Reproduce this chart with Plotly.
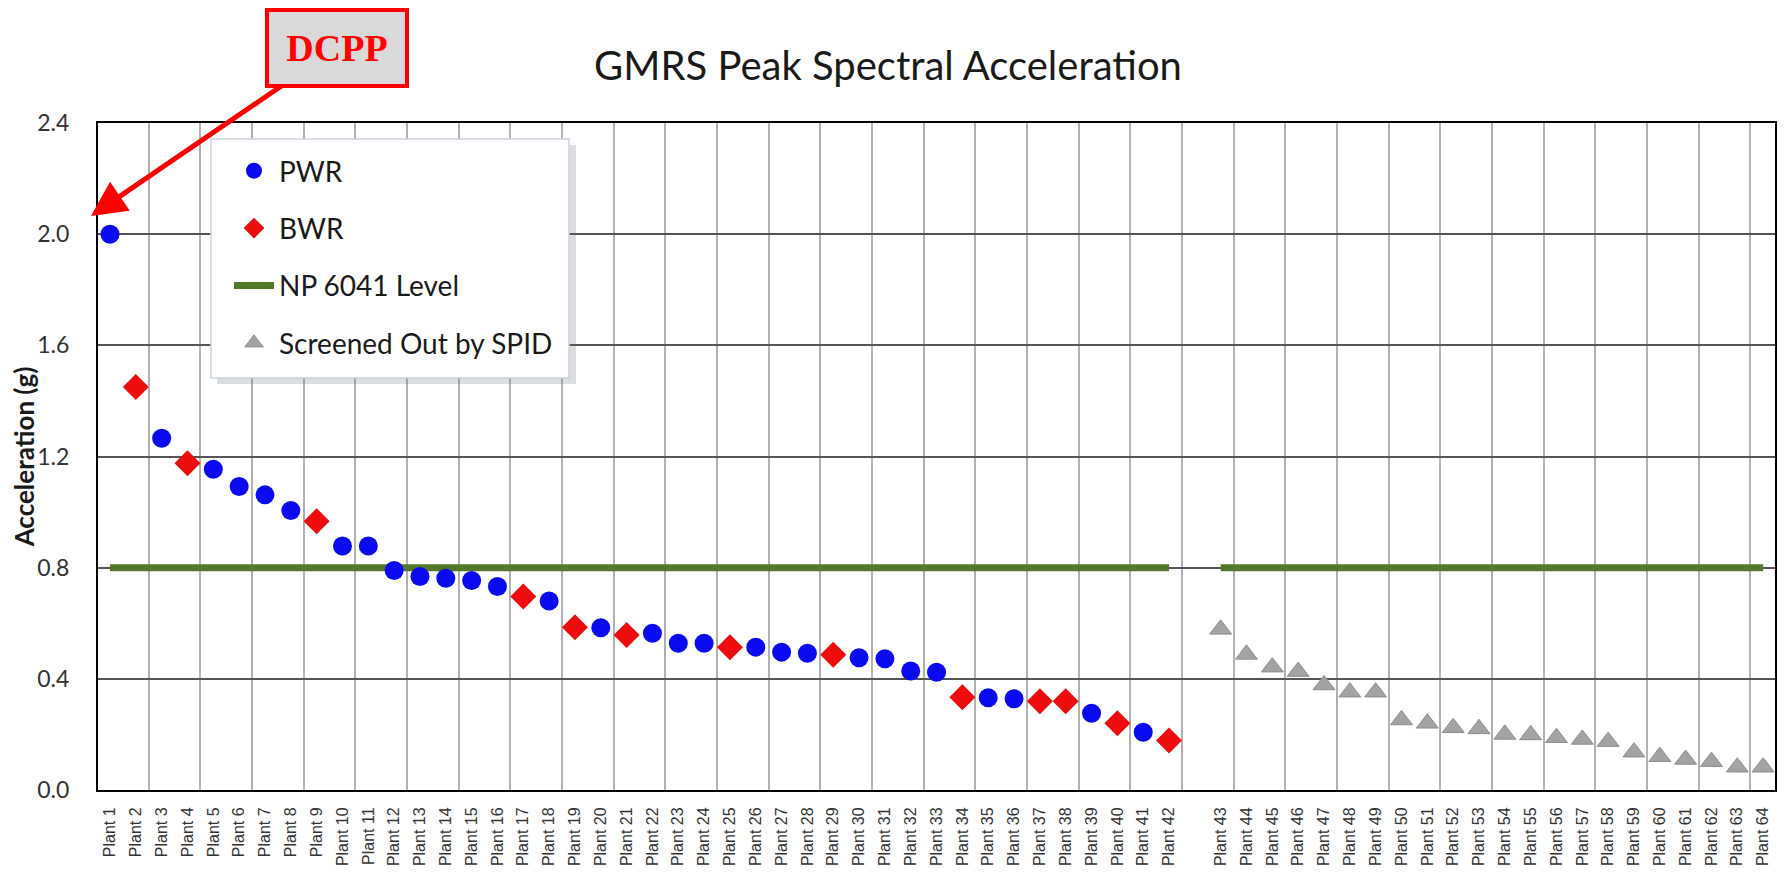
import plotly.graph_objects as go

plants = [f"Plant {i}" for i in range(1, 65)]
accel = [2.00, 1.45, 1.266, 1.176, 1.154, 1.092, 1.062, 1.006, 0.967, 0.878,
         0.878, 0.790, 0.768, 0.762, 0.754, 0.732, 0.696, 0.680, 0.586, 0.584,
         0.558, 0.564, 0.528, 0.528, 0.514, 0.514, 0.496, 0.492, 0.487, 0.476,
         0.472, 0.428, 0.424, 0.334, 0.332, 0.328, 0.319, 0.319, 0.276, 0.240,
         0.208, 0.178,
         0.578, 0.488, 0.442, 0.426, 0.378, 0.352, 0.352, 0.252, 0.240, 0.224,
         0.220, 0.200, 0.198, 0.188, 0.182, 0.174, 0.136, 0.120, 0.110, 0.102,
         0.082, 0.082]
types = ["PWR", "BWR", "PWR", "BWR", "PWR", "PWR", "PWR", "PWR", "BWR", "PWR",
         "PWR", "PWR", "PWR", "PWR", "PWR", "PWR", "BWR", "PWR", "BWR", "PWR",
         "BWR", "PWR", "PWR", "PWR", "BWR", "PWR", "PWR", "PWR", "BWR", "PWR",
         "PWR", "PWR", "PWR", "BWR", "PWR", "PWR", "BWR", "BWR", "PWR", "BWR",
         "PWR", "BWR"] + ["SPID"] * 22
np6041_level = 0.8
y_ticks = [0.0, 0.4, 0.8, 1.2, 1.6, 2.0, 2.4]

# category positions: one empty slot between Plant 42 and Plant 43
pos = [i if i < 42 else i + 1 for i in range(len(plants))]

OFF = 8  # page body margin
W, H = 1789 - OFF, 876 - OFF
L, R, T, B = 90, 14, 115, 86
pw, ph = W - L - R, H - T - B
def px(x):  # screenshot pixel -> paper
    return (x - OFF - L) / pw
def py(y):
    return (H - B - (y - OFF)) / ph

fig = go.Figure()

# NP 6041 level line (two segments)
grp1 = [p for p, t in zip(pos, types) if t != "SPID"]
grp2 = [p for p, t in zip(pos, types) if t == "SPID"]
fig.add_trace(go.Scatter(
    x=[grp1[0], grp1[-1], None, grp2[0], grp2[-1]],
    y=[np6041_level, np6041_level, None, np6041_level, np6041_level],
    mode="lines", name="NP 6041 Level", legendgroup="c", legendrank=3,
    line=dict(color="#52782a", width=7)))

def sel(t):
    xs = [p for p, tt in zip(pos, types) if tt == t]
    ys = [v for v, tt in zip(accel, types) if tt == t]
    return xs, ys

x, y = sel("PWR")
fig.add_trace(go.Scatter(x=x, y=y, mode="markers", name="PWR", legendgroup="a",
                         legendrank=1,
                         marker=dict(symbol="circle", size=19, color="#0a0af0",
                                     line=dict(width=0))))
x, y = sel("BWR")
fig.add_trace(go.Scatter(x=x, y=y, mode="markers", name="BWR", legendgroup="b",
                         legendrank=2,
                         marker=dict(symbol="diamond", size=20, color="#ee0c0c",
                                     line=dict(width=0))))
x, y = sel("SPID")
fig.add_trace(go.Scatter(x=x, y=y, mode="markers", name="Screened Out by SPID",
                         legendgroup="d", legendrank=4,
                         marker=dict(symbol="triangle-up", size=19, color="#a3a3a3",
                                     line=dict(width=1, color="#8c8c8c"))))

grid_x = [i + 1.5 for i in range(0, 63, 2)]

fig.update_layout(
    width=W, height=H,
    margin=dict(l=L, r=R, t=T, b=B, autoexpand=False),
    paper_bgcolor="white", plot_bgcolor="white",
    title=dict(text="GMRS Peak Spectral Acceleration", x=(888 - OFF) / W,
               xanchor="center", y=1 - (66 - OFF) / H, yanchor="middle",
               font=dict(family="Lato", size=40, color="#1a1a1a")),
    showlegend=True,
    legend=dict(x=px(229), y=py(146), xanchor="left", yanchor="top",
                bgcolor="rgba(0,0,0,0)", borderwidth=0,
                font=dict(family="Lato", size=28, color="#1a1a1a"),
                tracegroupgap=18, itemwidth=40, traceorder="grouped"),
    xaxis=dict(range=[-0.465, 64.46], tickmode="array", tickvals=pos, ticktext=plants,
               tickangle=-90, showgrid=False, zeroline=False, automargin=False,
               showline=True, linecolor="black", linewidth=2, mirror=True,
               ticks="", ticklabelstandoff=9,
               tickfont=dict(family="Liberation Sans", size=16, color="#333333"),
               minor=dict(tickmode="array", tickvals=grid_x, showgrid=True,
                          gridcolor="#b0b0b0", gridwidth=1.5, ticks="")),
    yaxis=dict(range=[0, 2.4], tickmode="array", tickvals=y_ticks,
               ticktext=[f"{v:.1f}" for v in y_ticks], automargin=False,
               showgrid=True, gridcolor="#555555", gridwidth=1.5, zeroline=False,
               showline=True, linecolor="black", linewidth=2, mirror=True,
               ticks="", ticklabelstandoff=22,
               tickfont=dict(family="Lato", size=23, color="#333333"),
               title=dict(text="Acceleration (g)", standoff=10,
                          font=dict(family="Lato", size=26, color="#1a1a1a",
                                    weight="bold"))),
)

# legend frame with a soft shadow
fig.add_shape(type="rect", xref="paper", yref="paper",
              x0=px(217), x1=px(576), y0=py(384), y1=py(145),
              fillcolor="rgba(90,100,120,0.22)", line=dict(width=0), layer="above")
fig.add_shape(type="rect", xref="paper", yref="paper",
              x0=px(211), x1=px(569), y0=py(378), y1=py(139),
              fillcolor="white", line=dict(color="#c9d2dc", width=1.5), layer="above")

# DCPP call-out
fig.add_annotation(
    xref="paper", yref="paper", x=px(91), y=py(216),
    ax=246, ay=-168, axref="pixel", ayref="pixel",
    text="<b>DCPP</b>", showarrow=True,
    font=dict(family="Liberation Serif", size=38, color="#ff0000"),
    bgcolor="#d9d9d9", bordercolor="#ff0000", borderwidth=4, borderpad=12,
    width=112, height=48,
    arrowcolor="#ff0000", arrowwidth=5, arrowhead=2, arrowsize=1.4, standoff=0,
)

fig.write_html("out.html")
